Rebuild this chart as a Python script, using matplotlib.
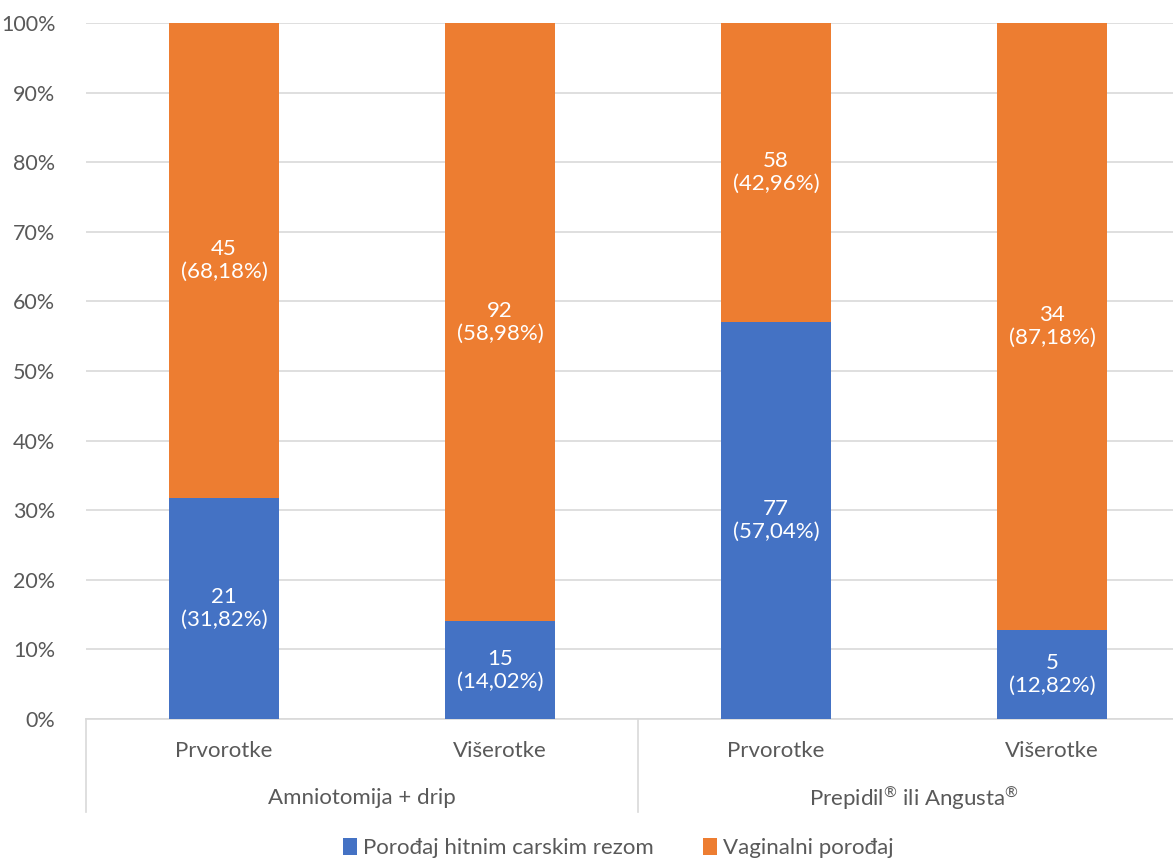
import matplotlib
matplotlib.use("Agg")
import matplotlib.pyplot as plt
from matplotlib.patches import Patch
import numpy as np

plt.rcParams['font.family'] = ['Lato', 'DejaVu Sans']

groups = ["Amniotomija + drip", r"Prepidil$^{\mathregular{®}}$ ili Angusta$^{\mathregular{®}}$"]
subcats = ["Prvorotke", "Višerotke", "Prvorotke", "Višerotke"]
series_names = ["Porođaj hitnim carskim rezom", "Vaginalni porođaj"]
carski = [21, 15, 77, 5]
vaginalni = [45, 92, 58, 34]
carski_pct_lbl = ["31,82%", "14,02%", "57,04%", "12,82%"]
vaginalni_pct_lbl = ["68,18%", "58,98%", "42,96%", "87,18%"]

blue = "#4472C4"
orange = "#ED7D31"
grey = "#595959"

W, H = 1173, 858
fig = plt.figure(figsize=(W/100, H/100), dpi=100)
ax = fig.add_axes([86/W, 1-719/H, (1190-86)/W, (719-23)/H])

c = np.array(carski, float)
v = np.array(vaginalni, float)
tot = c + v
cp = c / tot * 100
vp = v / tot * 100
x = np.arange(len(subcats))
bw = 110/276
ax.bar(x, cp, bw, color=blue, zorder=3)
ax.bar(x, vp, bw, bottom=cp, color=orange, zorder=3)

for i in range(len(x)):
    ax.text(x[i], cp[i]/2, f"{carski[i]}\n({carski_pct_lbl[i]})", ha='center', va='center',
            color='white', fontsize=16, linespacing=1.2, zorder=4)
    ax.text(x[i], cp[i] + vp[i]/2, f"{vaginalni[i]}\n({vaginalni_pct_lbl[i]})", ha='center', va='center',
            color='white', fontsize=16, linespacing=1.2, zorder=4)

ax.set_xlim(-0.5, 3.5)
ax.set_ylim(0, 100)
ax.set_yticks(np.arange(0, 101, 10))
ax.set_yticklabels([f"{t}%" for t in range(0, 101, 10)], fontsize=15.5, color=grey)
ax.yaxis.grid(True, color="#D9D9D9", linewidth=1.2, zorder=0)
ax.tick_params(axis='y', length=0, pad=22)
ax.set_xticks([])
for s in ['top', 'right', 'left']:
    ax.spines[s].set_visible(False)
ax.spines['bottom'].set_color("#D9D9D9")
ax.spines['bottom'].set_linewidth(1.2)

# category labels
trans = ax.get_xaxis_transform()
for i, s in enumerate(subcats):
    ax.text(x[i], -(751-719)/(719-23), s, transform=trans, ha='center', va='center',
            fontsize=16, color=grey, clip_on=False)
for g, name in enumerate(groups):
    ax.text(2*g + 0.5, -(798-719)/(719-23), name, transform=trans, ha='center', va='center',
            fontsize=16, color=grey, clip_on=False)
for xb in [-0.5, 1.5, 3.5]:
    ax.plot([xb, xb], [0, -(812-719)/(719-23)], transform=trans, color="#D9D9D9",
            linewidth=1.2, clip_on=False)

handles = [Patch(facecolor=blue), Patch(facecolor=orange)]
fig.legend(handles, series_names, loc='center', bbox_to_anchor=(618/W, 1-848/H), ncol=2,
           frameon=False, fontsize=16, labelcolor=grey, handlelength=0.65, handleheight=0.8,
           handletextpad=0.25, columnspacing=2.2)

fig.savefig("out.png", dpi=100)
